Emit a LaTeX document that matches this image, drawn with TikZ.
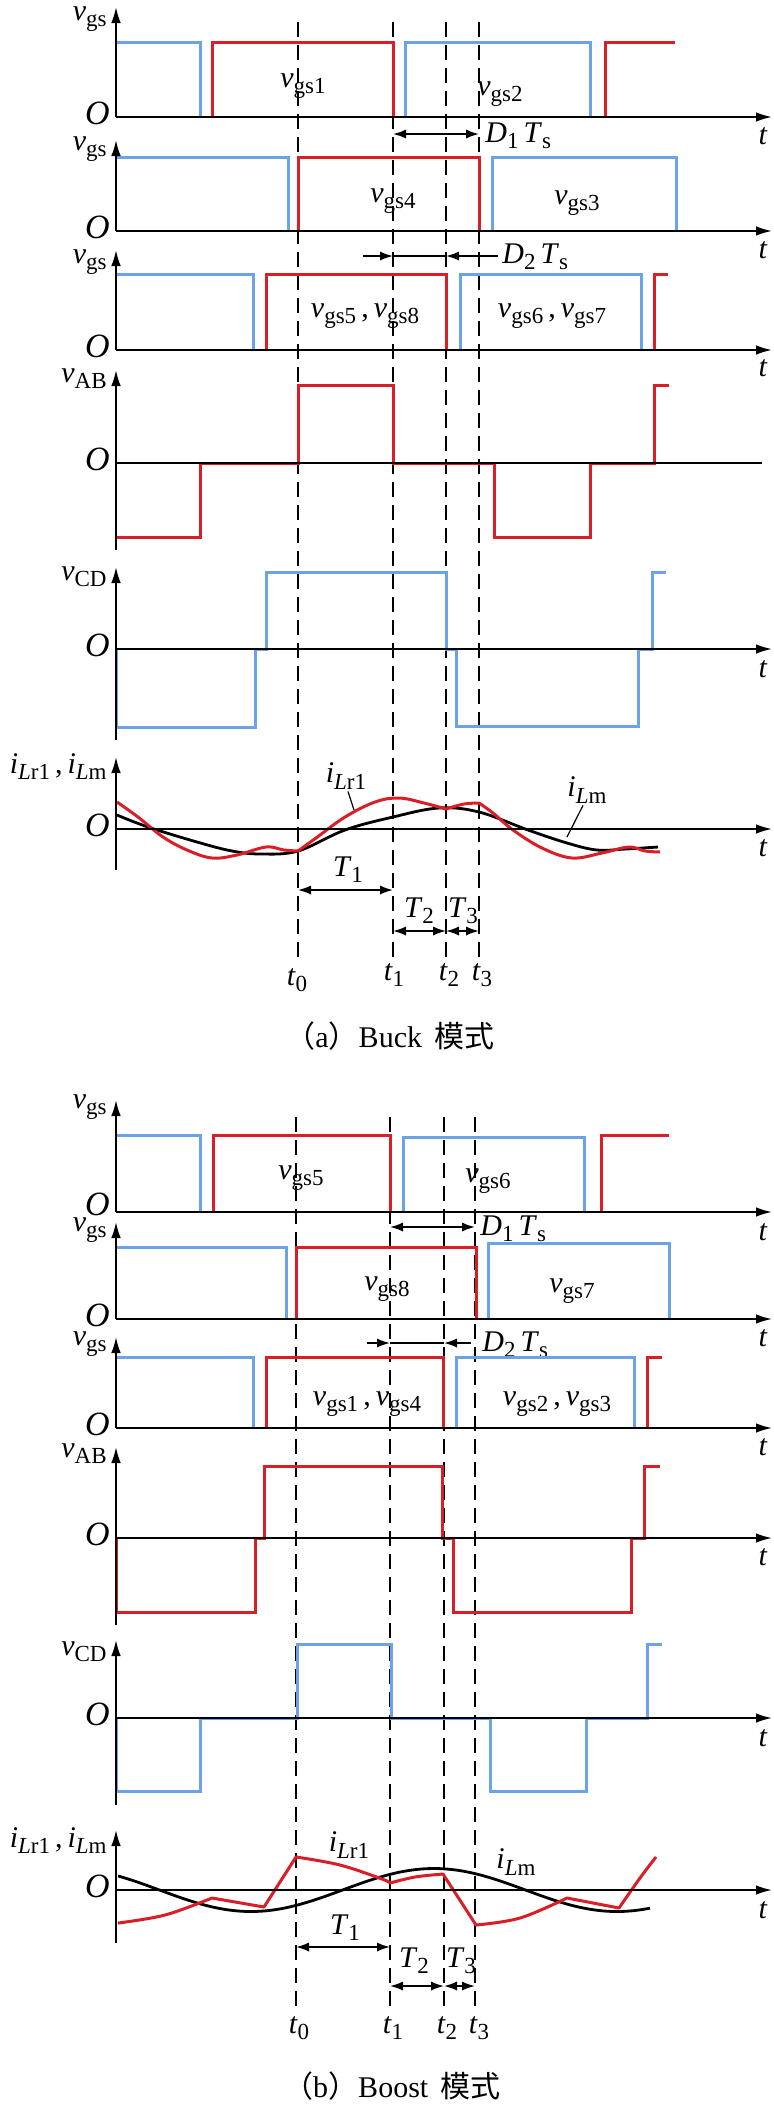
\documentclass[tikz,border=0pt]{standalone}
\usepackage{fontspec}
\setmainfont{Liberation Serif}
\newfontfamily\cjk{Noto Sans CJK SC}
\usetikzlibrary{arrows.meta}
\definecolor{wred}{RGB}{218,30,40}
\definecolor{wblue}{RGB}{108,163,230}
\tikzstyle{Axis} = [line width=0.9pt, -{Latex[length=8pt,width=4.8pt]}]
\tikzstyle{AxisFlat} = [line width=0.9pt]
\tikzstyle{Red} = [line width=1.5pt, wred]
\tikzstyle{Blue} = [line width=1.5pt, wblue]
\tikzstyle{Guide} = [line width=0.7pt, dash pattern=on 7.5pt off 4pt]
\tikzstyle{Span} = [line width=0.9pt,
{Latex[length=6.5pt,width=4.6pt]}-{Latex[length=6.5pt,width=4.6pt]}]
\tikzstyle{SpanIn} = [line width=0.9pt, -{Latex[length=6.5pt,width=4.6pt]}]
\tikzstyle{Lbl} = [font=\fontsize{15}{17}\selectfont, inner sep=0pt]
\tikzstyle{OLbl} = [font=\fontsize{17}{19}\selectfont, inner sep=0pt, anchor=east]
\tikzstyle{Cap} = [font=\fontsize{15}{17}\selectfont, inner sep=0pt, anchor=base]
\newcommand{\sbs}[1]{\raisebox{-0.45ex}{\fontsize{11.5}{12}\selectfont #1}}
\newcommand{\vg}[1]{\textit{v}\sbs{#1}}
\newcommand{\ic}[1]{\textit{i}\sbs{#1}}
\newcommand{\tk}[1]{\textit{t}\sbs{#1}}

\begin{document}
\begin{tikzpicture}[x=0.5pt, y=-0.5pt]
    \useasboundingbox (0,0) rectangle (773,2106);

    % ---------------- (a) Buck ----------------
    \foreach \x in {298,393,446,479}
        \draw[Guide] (\x,22) -- (\x,962);

    % vgs1 / vgs2
    \draw[Blue] (116,42) -- (200,42) -- (200,117);
    \draw[Blue] (405,117) -- (405,42) -- (590,42) -- (590,117);
    \draw[Red] (212,117) -- (212,42) -- (393,42) -- (393,117);
    \draw[Red] (605,117) -- (605,42) -- (675,42);
    \draw[Axis] (116,117) -- (116,7);
    \draw[Axis] (116,117) -- (772,117);
    \node[Lbl, anchor=base east] (ya1) at (107,20) {\vg{gs}};
    \node[OLbl] (oa1) at (110,113) {\textit{O}};
    \node[Lbl] (xa1) at (763,136) {\textit{t}};
    \node[Lbl] (la1) at (303,86) {\vg{gs1}};
    \node[Lbl] (la2) at (500,94) {\vg{gs2}};
    \coordinate (d1l) at (393,134);
    \coordinate (d1r) at (479,134);
    \draw[Span] (d1l) -- (d1r);
    \node[Lbl, anchor=west] (d1) at (485,136) {\textit{D}\sbs{1}\,\textit{T}\sbs{s}};

    % vgs4 / vgs3
    \draw[Blue] (116,157) -- (288,157) -- (288,231);
    \draw[Blue] (492,231) -- (492,157) -- (676,157) -- (676,231);
    \draw[Red] (298,231) -- (298,157) -- (479,157) -- (479,231);
    \draw[Axis] (116,231) -- (116,140);
    \draw[Axis] (116,231) -- (772,231);
    \node[Lbl, anchor=base east] (ya2) at (107,150) {\vg{gs}};
    \node[OLbl] (oa2) at (110,227) {\textit{O}};
    \node[Lbl] (xa2) at (763,250) {\textit{t}};
    \node[Lbl] (la4) at (393,201) {\vg{gs4}};
    \node[Lbl] (la3) at (577,203) {\vg{gs3}};
    \coordinate (d2a) at (363,256);
    \coordinate (d2l) at (393,256);
    \coordinate (d2r) at (446,256);
    \coordinate (d2b) at (498,256);
    \draw[SpanIn] (d2a) -- (d2l);
    \draw[line width=0.9pt] (d2l) -- (d2r);
    \draw[SpanIn] (d2b) -- (d2r);
    \node[Lbl, anchor=west] (d2) at (502,257) {\textit{D}\sbs{2}\,\textit{T}\sbs{s}};

    % vgs5,vgs8 / vgs6,vgs7
    \draw[Blue] (116,274) -- (253,274) -- (253,350);
    \draw[Blue] (460,350) -- (460,274) -- (641,274) -- (641,350);
    \draw[Red] (266,350) -- (266,274) -- (446,274) -- (446,350);
    \draw[Red] (654,350) -- (654,274) -- (668,274);
    \draw[Axis] (116,350) -- (116,250);
    \draw[Axis] (116,350) -- (772,350);
    \node[Lbl, anchor=base east] (ya3) at (107,263) {\vg{gs}};
    \node[OLbl] (oa3) at (110,346) {\textit{O}};
    \node[Lbl] (xa3) at (763,368) {\textit{t}};
    \node[Lbl] (la58) at (365,316) {\vg{gs5}\,,\,\vg{gs8}};
    \node[Lbl] (la67) at (552,316) {\vg{gs6}\,,\,\vg{gs7}};

    % vAB
    \draw[Red] (116,537) -- (200,537) -- (200,463) -- (298,463) -- (298,385)
        -- (393,385) -- (393,463) -- (494,463) -- (494,537) -- (590,537)
        -- (590,463) -- (654,463) -- (654,385) -- (669,385);
    \draw[Axis] (116,550) -- (116,370);
    \draw[AxisFlat] (116,463) -- (762,463);
    \node[Lbl, anchor=base east] (ya4) at (107,382) {\vg{AB}};
    \node[OLbl] (oa4) at (110,459) {\textit{O}};

    % vCD
    \draw[Blue] (116,649) -- (116,727) -- (255,727) -- (255,649) -- (266,649)
        -- (266,572) -- (446,572) -- (446,649) -- (456,649) -- (456,726)
        -- (638,726) -- (638,649) -- (652,649) -- (652,572) -- (666,572);
    \draw[Axis] (116,740) -- (116,567);
    \draw[Axis] (116,649) -- (772,649);
    \node[Lbl, anchor=base east] (ya5) at (107,580) {\vg{CD}};
    \node[OLbl] (oa5) at (110,645) {\textit{O}};
    \node[Lbl] (xa5) at (763,669) {\textit{t}};

    % currents
    \draw[line width=1.4pt] plot[smooth, tension=0.6] coordinates {(117,815) (148,827)
        (197,842) (232,851) (261,854) (298,851) (345,830) (393,817) (439,808)
        (479,812) (528,830) (567,843) (597,850) (626,849) (658,847)};
    \draw[Red, line join=round] plot[smooth, tension=0.6] coordinates {(117,802) (138,817)
        (163,837) (187,850) (212,858) (237,855) (266,847) (284,850) (298,851)}
        -- plot[smooth, tension=0.6] coordinates {(298,851) (316,838) (345,817)
        (375,802) (399,798) (424,803) (446,809)}
        -- plot[smooth, tension=0.6] coordinates {(446,809) (464,804) (479,803)}
        -- plot[smooth, tension=0.6] coordinates {(479,803) (493,813) (513,830)
        (542,848) (572,858) (602,853) (629,847) (645,851) (660,852)};
    \draw[Axis] (116,870) -- (116,757);
    \draw[Axis] (116,829) -- (772,829);
    \node[Lbl, anchor=base east] (ya6) at (107,773) {\ic{\textit{L}r1}\,,\,\ic{\textit{L}m}};
    \node[OLbl] (oa6) at (110,825) {\textit{O}};
    \node[Lbl] (xa6) at (763,848) {\textit{t}};
    \node[Lbl] (ia1) at (346,776) {\ic{\textit{L}r1}};
    \node[Lbl] (ia2) at (587,790) {\ic{\textit{L}m}};
    \coordinate (ia1p) at (354,810);
    \coordinate (ia2p) at (567,837);
    \draw[line width=0.6pt] (ia1.south) ++(2,2) -- (ia1p);
    \draw[line width=0.6pt] (ia2.south) ++(-4,2) -- (ia2p);

    \coordinate (ta1l) at (298,890);
    \coordinate (ta1r) at (393,890);
    \coordinate (ta2r) at (446,931);
    \coordinate (ta3r) at (479,931);
    \draw[Span] (ta1l) -- (ta1r);
    \draw[Span] (ta1r |- ta2r) -- (ta2r);
    \draw[Span] (ta2r) -- (ta3r);
    \node[Lbl] (Ta1) at (348,870) {\textit{T}\sbs{1}};
    \node[Lbl] (Ta2) at (419,911) {\textit{T}\sbs{2}};
    \node[Lbl] (Ta3) at (463,911) {\textit{T}\sbs{3}};
    \node[Lbl] (ka0) at (297,980) {\tk{0}};
    \node[Lbl] (ka1) at (394,975) {\tk{1}};
    \node[Lbl] (ka2) at (449,975) {\tk{2}};
    \node[Lbl] (ka3) at (482,975) {\tk{3}};
    \node[Cap] (capa) at (390,1047)
        {{\cjk （}a{\cjk ）}Buck\, {\cjk 模式}};

    % ---------------- (b) Boost ----------------
    \foreach \x in {296,390,444,475}
        \draw[Guide] (\x,1117) -- (\x,2013);

    % vgs5 / vgs6
    \draw[Blue] (116,1135) -- (200,1135) -- (200,1212);
    \draw[Blue] (403,1212) -- (403,1137) -- (584,1137) -- (584,1212);
    \draw[Red] (213,1212) -- (213,1135) -- (390,1135) -- (390,1212);
    \draw[Red] (601,1212) -- (601,1135) -- (669,1135);
    \draw[Axis] (116,1212) -- (116,1100);
    \draw[Axis] (116,1212) -- (772,1212);
    \node[Lbl, anchor=base east] (yb1) at (107,1108) {\vg{gs}};
    \node[OLbl] (ob1) at (110,1204) {\textit{O}};
    \node[Lbl] (xb1) at (763,1232) {\textit{t}};
    \node[Lbl] (lb5) at (301,1178) {\vg{gs5}};
    \node[Lbl] (lb6) at (488,1181) {\vg{gs6}};
    \coordinate (e1l) at (390,1227);
    \coordinate (e1r) at (475,1227);
    \draw[Span] (e1l) -- (e1r);
    \node[Lbl, anchor=west] (e1) at (480,1229) {\textit{D}\sbs{1}\,\textit{T}\sbs{s}};

    % vgs8 / vgs7
    \draw[Blue] (116,1247) -- (286,1247) -- (286,1319);
    \draw[Blue] (488,1319) -- (488,1243) -- (669,1243) -- (669,1319);
    \draw[Red] (296,1319) -- (296,1247) -- (476,1247) -- (476,1319);
    \draw[Axis] (116,1319) -- (116,1222);
    \draw[Axis] (116,1319) -- (772,1319);
    \node[Lbl, anchor=base east] (yb2) at (107,1231) {\vg{gs}};
    \node[OLbl] (ob2) at (110,1315) {\textit{O}};
    \node[Lbl] (xb2) at (763,1338) {\textit{t}};
    \node[Lbl] (lb8) at (387,1289) {\vg{gs8}};
    \node[Lbl] (lb7) at (572,1291) {\vg{gs7}};
    \coordinate (e2a) at (367,1343);
    \coordinate (e2l) at (390,1343);
    \coordinate (e2r) at (444,1343);
    \coordinate (e2b) at (471,1343);
    \draw[SpanIn] (e2a) -- (e2l);
    \draw[line width=0.9pt] (e2l) -- (e2r);
    \draw[SpanIn] (e2b) -- (e2r);
    \node[Lbl, anchor=west] (e2) at (482,1345) {\textit{D}\sbs{2}\,\textit{T}\sbs{s}};

    % vgs1,vgs4 / vgs2,vgs3
    \draw[Blue] (116,1357) -- (253,1357) -- (253,1428);
    \draw[Blue] (456,1428) -- (456,1357) -- (634,1357) -- (634,1428);
    \draw[Red] (266,1428) -- (266,1357) -- (443,1357) -- (443,1428);
    \draw[Red] (647,1428) -- (647,1357) -- (662,1357);
    \draw[Axis] (116,1428) -- (116,1337);
    \draw[Axis] (116,1428) -- (772,1428);
    \node[Lbl, anchor=base east] (yb3) at (107,1345) {\vg{gs}};
    \node[OLbl] (ob3) at (110,1424) {\textit{O}};
    \node[Lbl] (xb3) at (763,1447) {\textit{t}};
    \node[Lbl] (lb14) at (367,1404) {\vg{gs1}\,,\,\vg{gs4}};
    \node[Lbl] (lb23) at (557,1404) {\vg{gs2}\,,\,\vg{gs3}};

    % vAB
    \draw[Red] (116,1538) -- (116,1612) -- (255,1612) -- (255,1538) -- (264,1538)
        -- (264,1466) -- (442,1466) -- (442,1538) -- (453,1538) -- (453,1612)
        -- (631,1612) -- (631,1538) -- (644,1538) -- (644,1466) -- (660,1466);
    \draw[Axis] (116,1625) -- (116,1447);
    \draw[Axis] (116,1538) -- (772,1538);
    \node[Lbl, anchor=base east] (yb4) at (107,1457) {\vg{AB}};
    \node[OLbl] (ob4) at (110,1534) {\textit{O}};
    \node[Lbl] (xb4) at (763,1557) {\textit{t}};

    % vCD
    \draw[Blue] (116,1718) -- (116,1791) -- (200,1791) -- (200,1718) -- (297,1718)
        -- (297,1644) -- (391,1644) -- (391,1718) -- (490,1718) -- (490,1791)
        -- (586,1791) -- (586,1718) -- (647,1718) -- (647,1644) -- (662,1644);
    \draw[Axis] (116,1805) -- (116,1640);
    \draw[Axis] (116,1718) -- (772,1718);
    \node[Lbl, anchor=base east] (yb5) at (107,1655) {\vg{CD}};
    \node[OLbl] (ob5) at (110,1714) {\textit{O}};
    \node[Lbl] (xb5) at (763,1738) {\textit{t}};

    % currents
    \draw[line width=1.4pt] plot[domain=118:650, samples=80, smooth]
        (\x, {1890-21.5*cos(0.98361*(\x-434))});
    \draw[Red, line join=round] plot[smooth, tension=0.6] coordinates {(118,1923) (165,1915) (212,1898)}
        -- (264,1907) -- (296,1857)
        -- plot[smooth, tension=0.6] coordinates {(296,1857) (340,1865) (382,1879) (390,1883)}
        -- plot[smooth, tension=0.6] coordinates {(390,1883) (415,1877) (443,1874)}
        -- (476,1925)
        -- plot[smooth, tension=0.6] coordinates {(476,1925) (520,1918) (567,1898)}
        -- (619,1908)
        -- plot[smooth, tension=0.6] coordinates {(619,1908) (640,1878) (656,1857)};
    \draw[Axis] (116,1943) -- (116,1830);
    \draw[Axis] (116,1890) -- (772,1890);
    \node[Lbl, anchor=base east] (yb6) at (107,1847) {\ic{\textit{L}r1}\,,\,\ic{\textit{L}m}};
    \node[OLbl] (ob6) at (110,1886) {\textit{O}};
    \node[Lbl] (xb6) at (763,1910) {\textit{t}};
    \node[Lbl] (ib1) at (349,1845) {\ic{\textit{L}r1}};
    \node[Lbl] (ib2) at (516,1862) {\ic{\textit{L}m}};

    \coordinate (tb1l) at (296,1947);
    \coordinate (tb1r) at (390,1947);
    \coordinate (tb2r) at (444,1986);
    \coordinate (tb3r) at (475,1986);
    \draw[Span] (tb1l) -- (tb1r);
    \draw[Span] (tb1r |- tb2r) -- (tb2r);
    \draw[Span] (tb2r) -- (tb3r);
    \node[Lbl] (Tb1) at (345,1928) {\textit{T}\sbs{1}};
    \node[Lbl] (Tb2) at (414,1961) {\textit{T}\sbs{2}};
    \node[Lbl] (Tb3) at (461,1961) {\textit{T}\sbs{3}};
    \node[Lbl] (kb0) at (299,2028) {\tk{0}};
    \node[Lbl] (kb1) at (393,2028) {\tk{1}};
    \node[Lbl] (kb2) at (447,2028) {\tk{2}};
    \node[Lbl] (kb3) at (479,2028) {\tk{3}};
    \node[Cap] (capb) at (392,2097)
        {{\cjk （}b{\cjk ）}Boost\, {\cjk 模式}};
\end{tikzpicture}
\end{document}
